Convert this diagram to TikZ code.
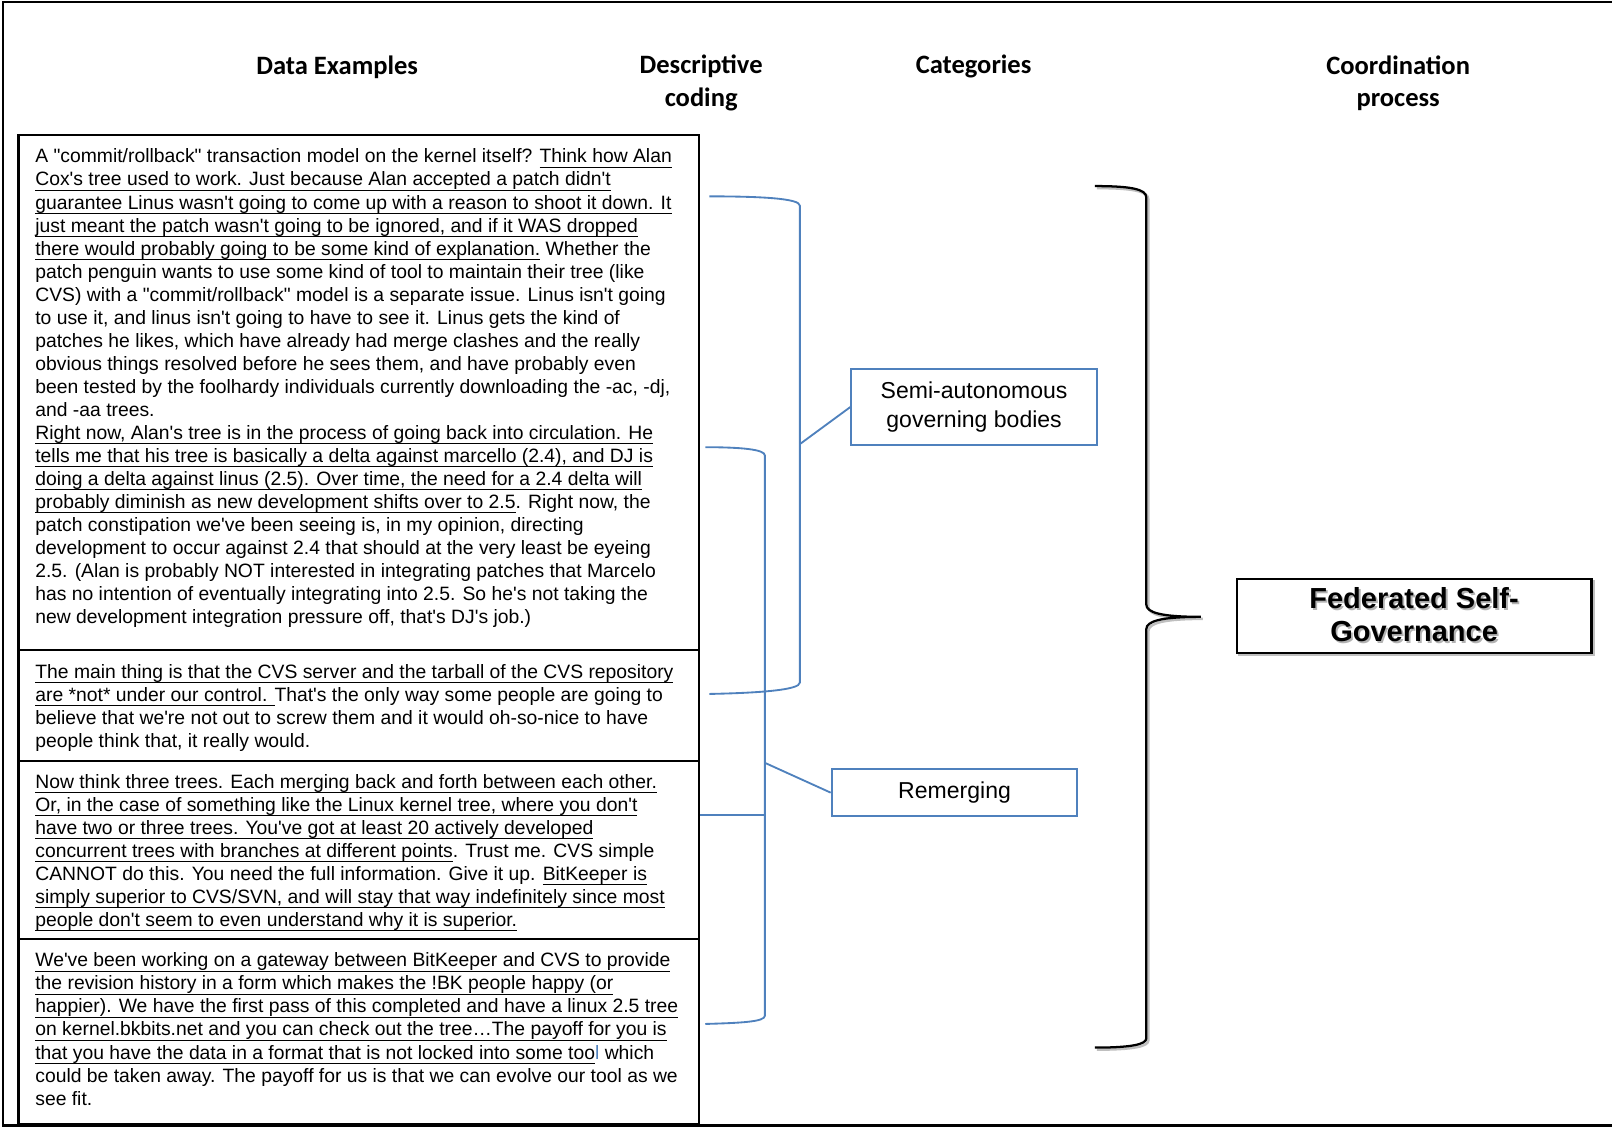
\documentclass[tikz,border=0pt]{standalone}
\usepackage{fontspec}
\setmainfont{Liberation Sans}[Ligatures=TeXOff]
\newfontfamily\headfont{Carlito}
\definecolor{bluec}{RGB}{79,129,189}
\newcommand\ulx[1]{\setbox0=\hbox{#1}\rlap{\rule[-2.3pt]{\wd0}{0.55pt}}\box0\relax}
\newcommand\shad[1]{\makebox[0pt][l]{\raisebox{-0.9pt}{\hspace{0.9pt}\textcolor{black!30}{#1}}}#1}
\begin{document}
\begin{tikzpicture}[x=0.5pt,y=-0.5pt,
  head/.style={font=\headfont\bfseries\fontsize{12.9}{16}\selectfont, align=center, inner sep=0},
  txt/.style={font=\fontsize{9.4}{11.2}\selectfont, inner sep=0, anchor=base west},
  catbox/.style={draw=bluec, line width=1pt, fill=white, align=center, font=\fontsize{11.2}{14}\selectfont, minimum width=119.5pt},
  bl/.style={draw=bluec, line width=0.9pt},
  frame/.style={line width=1pt}]
\useasboundingbox (0,0) rectangle (1568,1097);
% outer frame
\draw[line width=1.3pt] (1568,2) -- (3,2) -- (3,1095) -- (1568,1095);
% headings
\node[head] (h1) at (328,65) {Data Examples};
\node[head] (h2) at (682,81) {Descriptive\\coding};
\node[head] (h3) at (947,65) {Categories};
\node[head] (h4) at (1360,81) {Coordination\\process};
% data boxes
\draw[frame] (18,131) rectangle (680,1093);
\draw[frame] (18,632) -- (680,632);
\draw[frame] (18,740) -- (680,740);
\draw[frame] (18,913) -- (680,913);
\node[txt] (t1) at (34,158.5) {\vtop{\baselineskip=11.2pt
\hbox{A "commit/rollback" transaction model on the kernel itself? \ulx{Think how Alan}}
\hbox{\ulx{Cox's tree used to work. Just because Alan accepted a patch didn't}}
\hbox{\ulx{guarantee Linus wasn't going to come up with a reason to shoot it down. It}}
\hbox{\ulx{just meant the patch wasn't going to be ignored, and if it WAS dropped}}
\hbox{\ulx{there would probably going to be some kind of explanation.} Whether the}
\hbox{patch penguin wants to use some kind of tool to maintain their tree (like}
\hbox{CVS) with a "commit/rollback" model is a separate issue. Linus isn't going}
\hbox{to use it, and linus isn't going to have to see it. Linus gets the kind of}
\hbox{patches he likes, which have already had merge clashes and the really}
\hbox{obvious things resolved before he sees them, and have probably even}
\hbox{been tested by the foolhardy individuals currently downloading the -ac, -dj,}
\hbox{and -aa trees.}
\hbox{\ulx{Right now, Alan's tree is in the process of going back into circulation. He}}
\hbox{\ulx{tells me that his tree is basically a delta against marcello (2.4), and DJ is}}
\hbox{\ulx{doing a delta against linus (2.5). Over time, the need for a 2.4 delta will}}
\hbox{\ulx{probably diminish as new development shifts over to 2.5}. Right now, the}
\hbox{patch constipation we've been seeing is, in my opinion, directing}
\hbox{development to occur against 2.4 that should at the very least be eyeing}
\hbox{2.5. (Alan is probably NOT interested in integrating patches that Marcelo}
\hbox{has no intention of eventually integrating into 2.5. So he's not taking the}
\hbox{new development integration pressure off, that's DJ's job.)}}};
\node[txt] (t2) at (34,659.5) {\vtop{\baselineskip=11.2pt
\hbox{\ulx{The main thing is that the CVS server and the tarball of the CVS repository}}
\hbox{\ulx{are *not* under our control. }That's the only way some people are going to}
\hbox{believe that we're not out to screw them and it would oh-so-nice to have}
\hbox{people think that, it really would.}}};
\node[txt] (t3) at (34,766.5) {\vtop{\baselineskip=11.2pt
\hbox{\ulx{Now think three trees. Each merging back and forth between each other.}}
\hbox{\ulx{Or, in the case of something like the Linux kernel tree, where you don't}}
\hbox{\ulx{have two or three trees. You've got at least 20 actively developed}}
\hbox{\ulx{concurrent trees with branches at different points}. Trust me. CVS simple}
\hbox{CANNOT do this. You need the full information. Give it up. \ulx{BitKeeper is}}
\hbox{\ulx{simply superior to CVS/SVN, and will stay that way indefinitely since most}}
\hbox{\ulx{people don't seem to even understand why it is superior.}}}};
\node[txt] (t4) at (34,940.5) {\vtop{\baselineskip=11.2pt
\hbox{\ulx{We've been working on a gateway between BitKeeper and CVS to provide}}
\hbox{\ulx{the revision history in a form which makes the !BK people happy (or}}
\hbox{\ulx{happier). We have the first pass of this completed and have a linux 2.5 tree}}
\hbox{\ulx{on kernel.bkbits.net and you can check out the tree\ldots The payoff for you is}}
\hbox{\ulx{that you have the data in a format that is not locked into some too}\textcolor{bluec}{l} which}
\hbox{could be taken away. The payoff for us is that we can evolve our tool as we}
\hbox{see fit.}}};
% category boxes
\node[catbox, minimum height=37pt] (sab) at (947.5,396) {\raisebox{-1.2pt}{\parbox{110pt}{\centering Semi-autonomous\\governing bodies}}};
\node[catbox, minimum height=23pt] (rem) at (928.5,771) {Remerging};
% blue brackets
\draw[bl] (690,191) .. controls (740,191) and (778,193) .. (778,200) -- (778,664) .. controls (778,671) and (740,674) .. (690,675);
\draw[bl] (686,435) .. controls (720,435) and (744,437) .. (744,443) -- (744,988) .. controls (744,994) and (720,995) .. (686,996);
\coordinate (b2h) at (681,793);
\coordinate (b2v) at (744,793);
\draw[bl] (b2h) -- (b2v);
\coordinate (b1m) at (778,432);
\coordinate (b2m) at (744,742);
\draw[bl] (b1m) -- (sab.west);
\draw[bl] (b2m) -- (rem.west);
% black brace
\coordinate (tip) at (1168,600);
\draw[black!25, line width=1.2pt, xshift=1pt, yshift=-1pt] (1065,181) .. controls (1100,181) and (1115,184) .. (1115,192) -- (1115,588) .. controls (1115,596) and (1130,600) .. (1168,600) .. controls (1130,600) and (1115,604) .. (1115,612) -- (1115,1010) .. controls (1115,1016) and (1100,1019) .. (1065,1019);
\draw[line width=1.1pt] (1065,181) .. controls (1100,181) and (1115,184) .. (1115,192) -- (1115,588) .. controls (1115,596) and (1130,600) .. (tip) .. controls (1130,600) and (1115,604) .. (1115,612) -- (1115,1010) .. controls (1115,1016) and (1100,1019) .. (1065,1019);
% federated box
\node[draw=black!25, line width=1.2pt, minimum width=172.5pt, minimum height=36pt, xshift=1pt, yshift=-1pt] (fsgs) at (1375.5,599) {};
\node[draw, line width=1.1pt, fill=white, minimum width=172.5pt, minimum height=36pt, align=center, font=\bfseries\fontsize{14.1}{16}\selectfont] (fsg) at (1375.5,599) {\shad{Federated Self-}\\\shad{Governance}};
\end{tikzpicture}
\end{document}
